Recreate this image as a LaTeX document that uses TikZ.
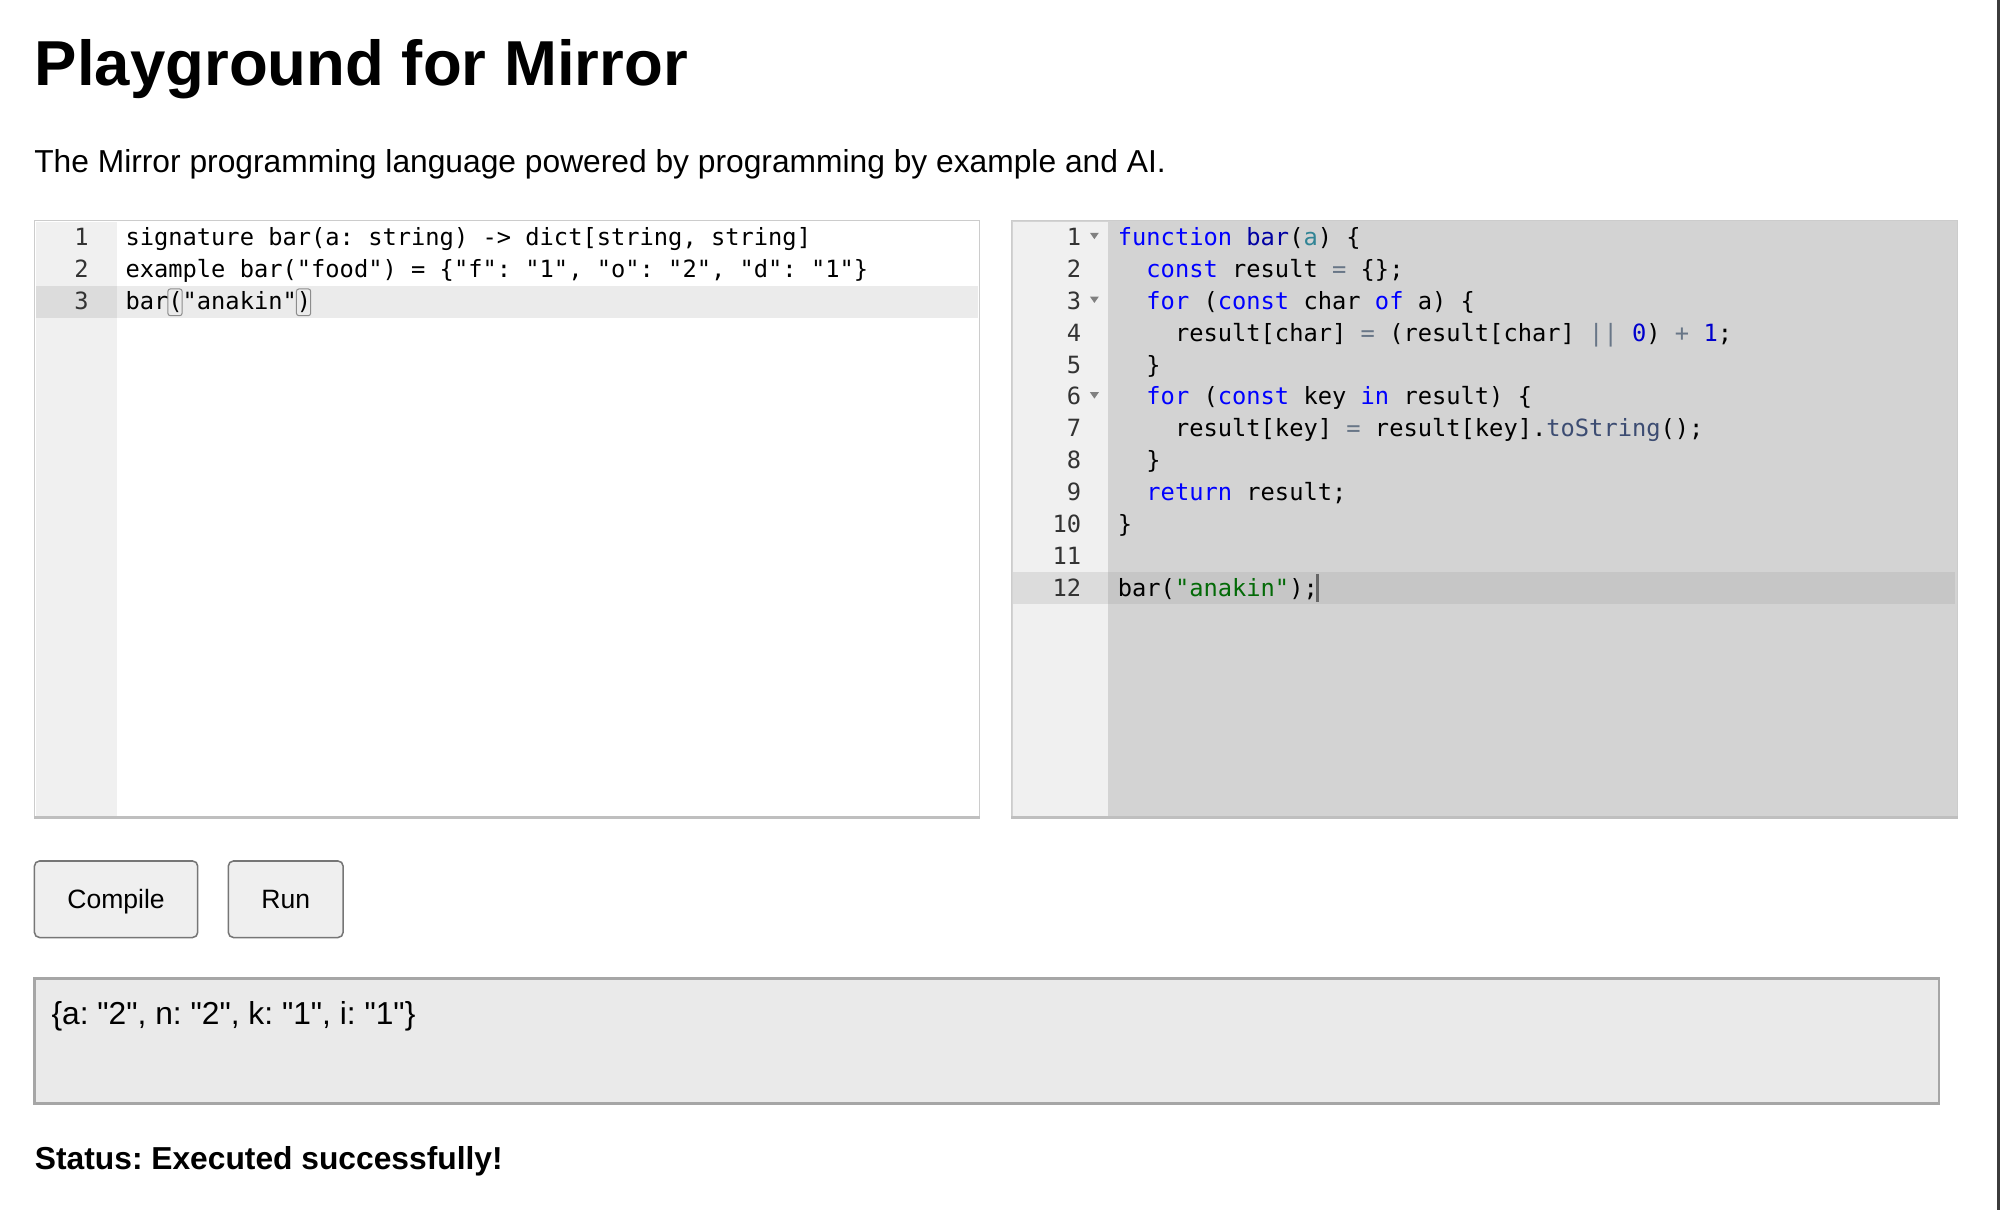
\documentclass[tikz,border=0pt]{standalone}
\usepackage{fontspec}
\setmainfont{Liberation Sans}[Ligatures=TeXOff]
\newfontfamily\codefont{DejaVu Sans Mono}[Ligatures=TeXOff]
\usepackage{xcolor}
\frenchspacing

\definecolor{gutter}{HTML}{F0F0F0}
\definecolor{gutteract}{HTML}{DCDCDC}
\definecolor{lineact}{HTML}{EBEBEB}
\definecolor{codebg}{HTML}{D3D3D3}
\definecolor{codeact}{HTML}{C6C6C6}
\definecolor{kwblue}{HTML}{0000FF}
\definecolor{fnblue}{HTML}{0000A2}
\definecolor{varteal}{HTML}{318495}
\definecolor{opgray}{HTML}{687687}
\definecolor{numblue}{HTML}{0000CD}
\definecolor{strgreen}{HTML}{036A07}
\definecolor{supslate}{HTML}{3C4C72}
\definecolor{btnbg}{HTML}{EFEFEF}
\definecolor{btnline}{HTML}{767676}
\definecolor{outbg}{HTML}{EAEAEA}
\definecolor{edge}{HTML}{3C3C3C}

\newcommand\jskw[1]{\textcolor{kwblue}{#1}}
\newcommand\jsfn[1]{\textcolor{fnblue}{#1}}
\newcommand\jsvar[1]{\textcolor{varteal}{#1}}
\newcommand\jsop[1]{\textcolor{opgray}{#1}}
\newcommand\jsnum[1]{\textcolor{numblue}{#1}}
\newcommand\jsstr[1]{\textcolor{strgreen}{#1}}
\newcommand\jssup[1]{\textcolor{supslate}{#1}}

\begin{document}
\begin{tikzpicture}[x=0.5pt,y=-0.5pt,
	font=\fontsize{12.45}{15}\selectfont,
	code/.style={anchor=base west,inner sep=0,font=\codefont\fontsize{9.3}{11}\selectfont},
	lnum/.style={anchor=base east,inner sep=0,font=\codefont\fontsize{9.3}{11}\selectfont,text=black!80},
	button/.style={draw=btnline,fill=btnbg,rounded corners=2pt,line width=0.6pt,minimum height=30pt,inner sep=0,text height=7.6pt,text depth=0pt,font=\fontsize{10.4}{12}\selectfont}]
	\useasboundingbox (0,0) rectangle (1568,948.6);
	\fill[white] (0,0) rectangle (1568,948.6);
	\fill[edge] (1566,0) rectangle (1568,948.6);
	
	% heading
	\node[anchor=base west,inner sep=0,font=\bfseries\fontsize{24.9}{30}\selectfont] (title) at (27,67) {Playground for Mirror};
	\node[anchor=base west,inner sep=0] (subtitle) at (26.5,135) {The Mirror programming language powered by programming by example and AI.};
	
	% left editor
	\fill[white] (27,173) rectangle (768,641);
	\fill[gutter] (28,174) rectangle (91.5,640);
	\fill[lineact] (91.5,224) rectangle (767,249);
	\fill[gutteract] (28,224) rectangle (91.5,249);
	\draw[black!20] (27,173) rectangle (768,641);
	\draw[black!25,line width=1pt] (27,641) -- (768,641);
	\draw[black!45,rounded corners=1pt,line width=0.4pt] (131.6,226.5) rectangle (142.8,247.5);
	\draw[black!45,rounded corners=1pt,line width=0.4pt] (232.4,226.5) rectangle (243.6,247.5);
	
	\foreach \i in {1,2,3}
		\node[lnum] (ln\i) at (70,{167.5+25*\i}) {\i};
	\node[code] (src1) at (98,192.5) {signature bar(a: string) -> dict[string, string]};
	\node[code] (src2) at (98,217.5) {example bar("food") = \{"f": "1", "o": "2", "d": "1"\}};
	\node[code] (src3) at (98,242.5) {bar("anakin")};
	
	% right editor
	\fill[codebg] (793,173) rectangle (1535,641);
	\fill[gutter] (794,174) rectangle (869,640);
	\fill[codeact] (869,448.5) rectangle (1533,473.5);
	\fill[gutteract] (794,448.5) rectangle (869,473.5);
	\draw[black!20] (793,173) rectangle (1535,641);
	\draw[black!25,line width=1pt] (793,641) -- (1535,641);
	
	\foreach \i in {1,...,12}
		\node[lnum] (rn\i) at (848,{167.5+25*\i}) {\i};
	\foreach \i in {1,3,6}
		\fill[black!50] (854.5,{182.5+25*(\i-1)}) -- ++(7,0) -- ++(-3.5,5) -- cycle;
	
	\node[code] (js1) at (876,192.5) {\jskw{function} \jsfn{bar}(\jsvar{a}) \{};
	\node[code] (js2) at (898.4,217.5) {\jskw{const} result \jsop{=} \{\};};
	\node[code] (js3) at (898.4,242.5) {\jskw{for} (\jskw{const} char \jskw{of} a) \{};
	\node[code] (js4) at (920.8,267.5) {result[char] \jsop{=} (result[char] \jsop{||} \jsnum{0}) \jsop{+} \jsnum{1};};
	\node[code] (js5) at (898.4,292.5) {\}};
	\node[code] (js6) at (898.4,317.5) {\jskw{for} (\jskw{const} key \jskw{in} result) \{};
	\node[code] (js7) at (920.8,342.5) {result[key] \jsop{=} result[key].\jssup{toString}();};
	\node[code] (js8) at (898.4,367.5) {\}};
	\node[code] (js9) at (898.4,392.5) {\jskw{return} result;};
	\node[code] (js10) at (876,417.5) {\}};
	\node[code] (js12) at (876,467.5) {bar(\jsstr{"anakin"});};
	\draw[black!60,line width=1pt] (1033,450) -- (1033,472);
	
	% buttons
	\node[button,minimum width=64pt] (compile) at (91,705) {Compile};
	\node[button,minimum width=45pt] (run) at (224,705) {Run};
	
	% output
	\node[draw=black!35,fill=outbg,line width=1pt,minimum width=746.5pt,minimum height=49pt,inner sep=0] (output) at (773.5,816) {};
	\node[anchor=base west,inner sep=0] (result) at (40,803.5) {\{a: "2", n: "2", k: "1", i: "1"\}};
	
	\node[anchor=base west,inner sep=0,font=\bfseries\fontsize{12.45}{15}\selectfont] (status) at (27,917) {Status: Executed successfully!};
\end{tikzpicture}
\end{document}
